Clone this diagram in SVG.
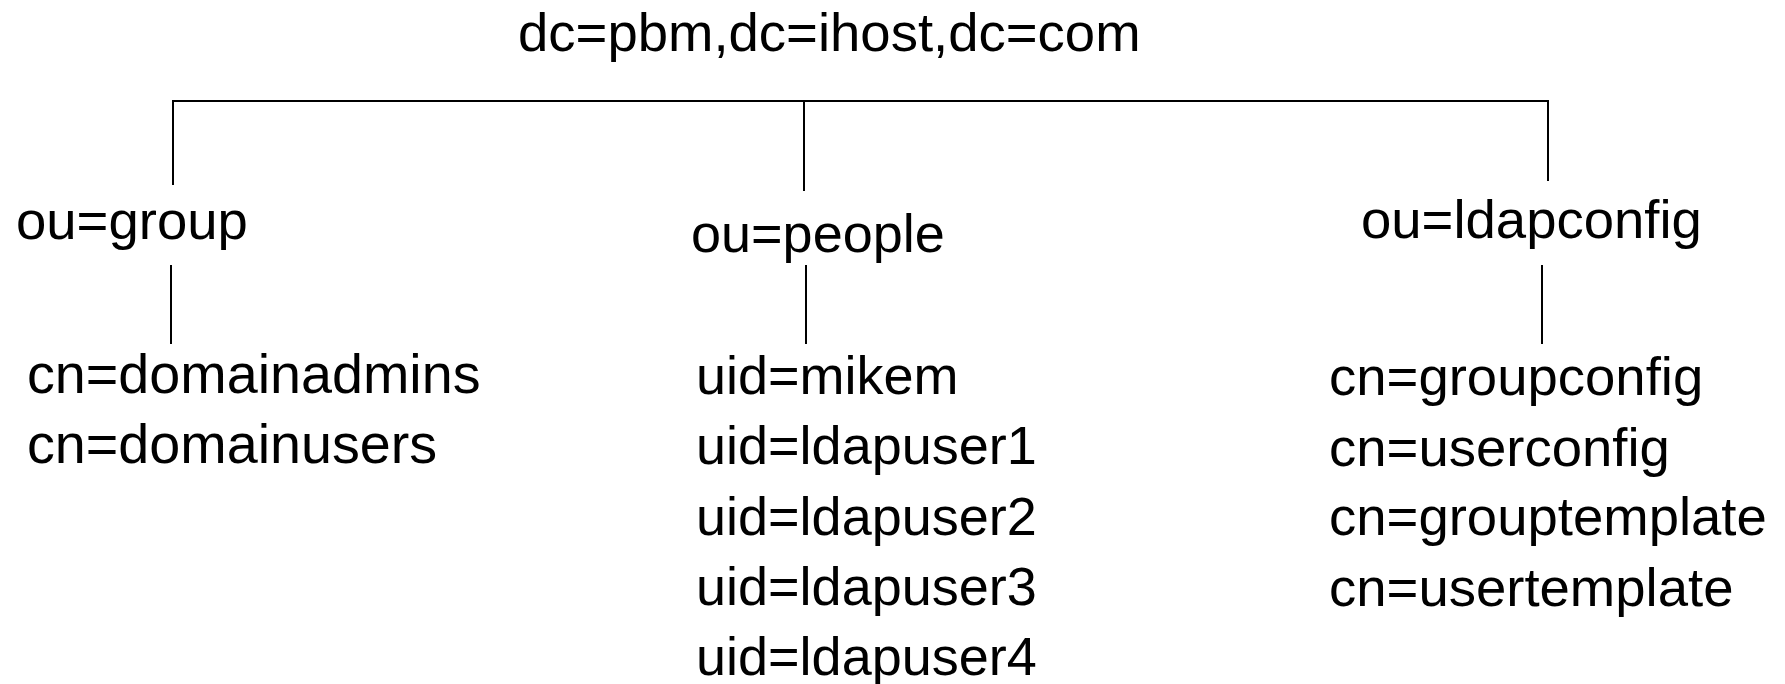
<svg xmlns="http://www.w3.org/2000/svg" width="1785" height="684" viewBox="0 0 1785 684">
<style>
text{font-family:"Liberation Sans",Arial,sans-serif;font-size:54.5px;fill:#000}
.g{font-size:55.7px}
.p{font-size:54px}
.c{stroke:#000;stroke-width:2;fill:none}
</style>
<rect width="1785" height="684" fill="#fff"/>
<g id="connectors">
<path class="c" d="M173 185V101H1548V181"/>
<path class="c" d="M804 101V191"/>
<path class="c" d="M171 265V344"/>
<path class="c" d="M806 265V344"/>
<path class="c" d="M1542 265V344"/>
</g>
<g id="root"><text x="518" y="51">dc=pbm,dc=ihost,dc=com</text></g>
<g id="ou-group"><text x="16" y="239">ou=group</text></g>
<g id="ou-people"><text class="p" x="691" y="252">ou=people</text></g>
<g id="ou-ldapconfig"><text x="1361" y="238">ou=ldapconfig</text></g>
<g id="group-children">
<text class="g" x="27" y="393">cn=domainadmins</text>
<text class="g" x="27" y="463">cn=domainusers</text>
</g>
<g id="people-children">
<text class="p" x="696" y="394">uid=mikem</text>
<text class="p" x="696" y="464">uid=ldapuser1</text>
<text class="p" x="696" y="535">uid=ldapuser2</text>
<text class="p" x="696" y="605">uid=ldapuser3</text>
<text class="p" x="696" y="675">uid=ldapuser4</text>
</g>
<g id="ldapconfig-children">
<text x="1329" y="395">cn=groupconfig</text>
<text x="1329" y="466">cn=userconfig</text>
<text x="1329" y="535">cn=grouptemplate</text>
<text x="1329" y="606">cn=usertemplate</text>
</g>
</svg>
